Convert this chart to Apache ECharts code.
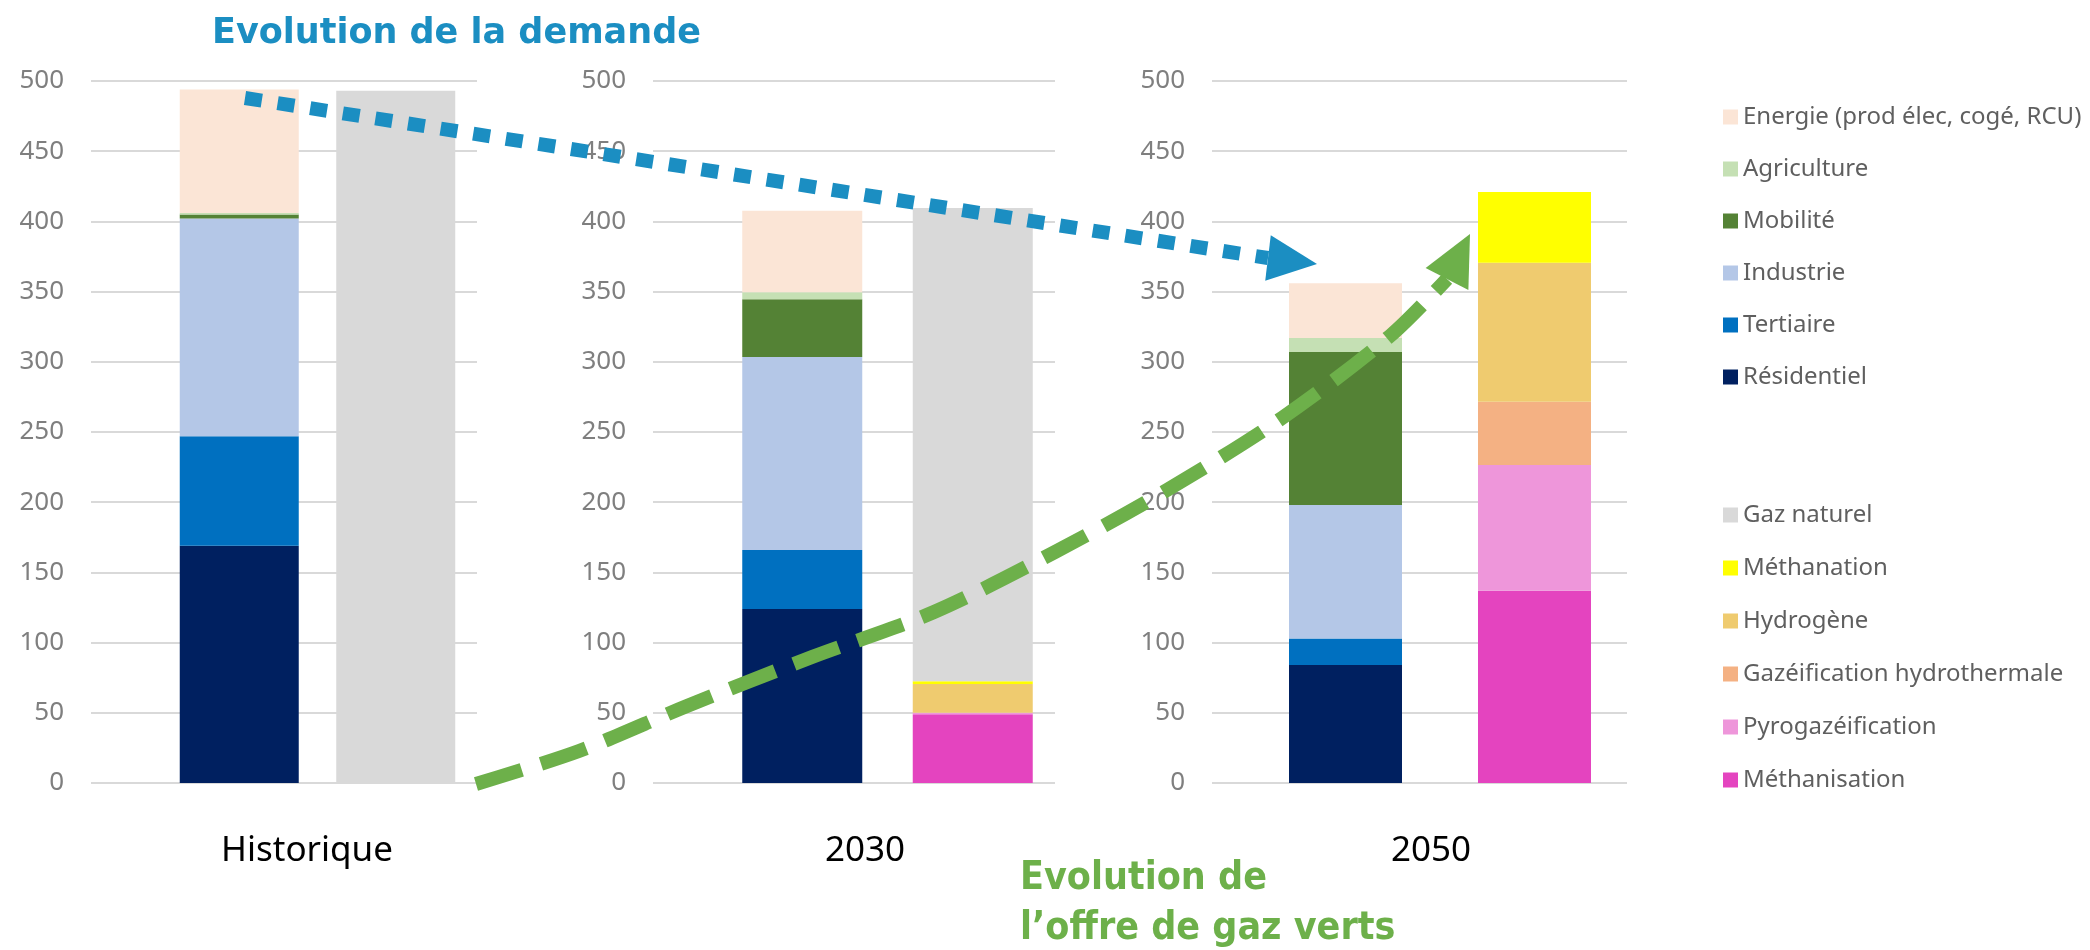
<!DOCTYPE html>
<html>
<head>
<meta charset="utf-8">
<script src="https://cdn.jsdelivr.net/npm/echarts@6/dist/echarts.min.js"></script>
<style>
html, body { margin: 0; padding: 0; background: #fff; }
#chart { width: 2090px; height: 950px; }
</style>
</head>
<body>
<div id="chart"></div>
<script>
// periods (one panel each)
var periods = ['Historique', '2030', '2050'];

// demand, bottom to top of the stack
var residentiel = [169, 124, 84];
var tertiaire = [78, 42, 19];
var industrie = [155, 137.5, 95];
var mobilite = [3, 41, 109];
var agriculture = [1, 5, 10];
var energie = [88, 58, 39];

// supply, bottom to top of the stack
var methanisation = [0, 49, 137];
var pyrogazeification = [0, 1, 89.5];
var gazeificationHydro = [0, 0, 45];
var hydrogene = [0, 20.5, 99];
var methanation = [0, 2, 50.5];
var gazNaturel = [493, 337, 0];

var demandNames = ['Résidentiel', 'Tertiaire', 'Industrie', 'Mobilité', 'Agriculture', 'Energie (prod élec, cogé, RCU)'];
var demandValues = [residentiel, tertiaire, industrie, mobilite, agriculture, energie];
var demandColors = ['#002060', '#0070c0', '#b4c7e7', '#548235', '#c5e0b4', '#fbe5d6'];

var supplyNames = ['Méthanisation', 'Pyrogazéification', 'Gazéification hydrothermale', 'Hydrogène', 'Méthanation', 'Gaz naturel'];
var supplyValues = [methanisation, pyrogazeification, gazeificationHydro, hydrogene, methanation, gazNaturel];
var supplyColors = ['#e444bf', '#ee96da', '#f4b183', '#efcb6f', '#ffff00', '#d9d9d9'];

// panel layout (pixels)
var panels = [
    {gridLeft: 91, gridWidth: 386, barLeft: 161, barGrid: 313, barWidth: 119, labelX: 307},
    {gridLeft: 653, gridWidth: 402, barLeft: 717, barGrid: 341, barWidth: 120, labelX: 865},
    {gridLeft: 1212, gridWidth: 415, barLeft: 1251, barGrid: 378, barWidth: 113, labelX: 1431}
];
var plotTop = 81, plotHeight = 702;

var grid = [], xAxis = [], yAxis = [], series = [];

panels.forEach(function (p, i) {
    // grid carrying the y labels and gridlines
    grid.push({left: p.gridLeft, top: plotTop, width: p.gridWidth, height: plotHeight});
    xAxis.push({gridIndex: 2 * i, type: 'category', data: [periods[i]], show: false});
    yAxis.push({
        gridIndex: 2 * i, type: 'value', min: 0, max: 500, interval: 50,
        axisLine: {show: false}, axisTick: {show: false},
        axisLabel: {color: '#7f7f7f', fontSize: 26, fontFamily: 'Noto Sans', margin: 27},
        splitLine: {lineStyle: {color: '#d9d9d9', width: 2}}
    });
    // grid carrying the two bars
    grid.push({left: p.barLeft, top: plotTop, width: p.barGrid, height: plotHeight});
    xAxis.push({gridIndex: 2 * i + 1, type: 'category', data: ['demande', 'offre'], show: false});
    yAxis.push({gridIndex: 2 * i + 1, type: 'value', min: 0, max: 500, show: false});

    demandNames.forEach(function (name, j) {
        series.push({
            name: name, type: 'bar', stack: 'p' + i, barWidth: p.barWidth,
            xAxisIndex: 2 * i + 1, yAxisIndex: 2 * i + 1,
            itemStyle: {color: demandColors[j]},
            emphasis: {disabled: true},
            data: [demandValues[j][i], '-']
        });
    });
    supplyNames.forEach(function (name, j) {
        series.push({
            name: name, type: 'bar', stack: 'p' + i, barWidth: p.barWidth,
            xAxisIndex: 2 * i + 1, yAxisIndex: 2 * i + 1,
            itemStyle: {color: supplyColors[j]},
            emphasis: {disabled: true},
            data: ['-', supplyValues[j][i]]
        });
    });
});

var legendText = {color: '#5f5f5f', fontSize: 24, fontFamily: 'Noto Sans', lineHeight: 24};

function arrowHead(tip, base, half) {
    var dx = tip[0] - base[0], dy = tip[1] - base[1];
    var len = Math.sqrt(dx * dx + dy * dy);
    var nx = -dy / len * half, ny = dx / len * half;
    return [tip, [base[0] + nx, base[1] + ny], [base[0] - nx, base[1] - ny]];
}

var graphics = [
    {
        type: 'text', x: 212, y: 34, z: 100,
        style: {text: 'Evolution de la demande', fill: '#1b8ec2', font: 'bold 35px "DejaVu Sans"', verticalAlign: 'middle'}
    },
    {
        type: 'text', x: 1020, y: 879, z: 100,
        style: {text: 'Evolution de', fill: '#6db04a', font: 'bold 39px "DejaVu Sans Condensed"', verticalAlign: 'middle'}
    },
    {
        type: 'text', x: 1020, y: 929, z: 100,
        style: {text: 'l\u2019offre de gaz verts', fill: '#6db04a', font: 'bold 39px "DejaVu Sans Condensed"', verticalAlign: 'middle'}
    },
    // demand arrow (dotted)
    {
        type: 'line', z: 100,
        shape: {x1: 245, y1: 98, x2: 1268, y2: 258},
        style: {stroke: '#1b8ec2', lineWidth: 14, lineDash: [17, 16]}
    },
    {
        type: 'polygon', z: 100,
        shape: {points: arrowHead([1317, 264], [1268, 258], 23)},
        style: {fill: '#1b8ec2'}
    },
    // green supply arrow (dashed)
    {
        type: 'polyline', z: 100,
        shape: {
            points: [[476, 784], [579, 751], [687, 706], [812, 657], [934, 612], [1055, 552], [1167, 490], [1282, 418], [1390, 336], [1447, 279]],
            smooth: 0.3
        },
        style: {stroke: '#6db04a', lineWidth: 14, lineDash: [48, 20], fill: null}
    },
    {
        type: 'polygon', z: 100,
        shape: {points: arrowHead([1470, 234], [1447, 279], 24)},
        style: {fill: '#6db04a'}
    }
];

periods.forEach(function (label, i) {
    graphics.push({
        type: 'text', x: panels[i].labelX, y: 851, z: 100,
        style: {text: label, fill: '#000', font: '35px "Noto Sans"', align: 'center', verticalAlign: 'middle'}
    });
});

var myChart = echarts.init(document.getElementById('chart'));
option = {
    animation: false,
    backgroundColor: '#fff',
    grid: grid,
    xAxis: xAxis,
    yAxis: yAxis,
    legend: [{
        data: demandNames.slice().reverse(),
        orient: 'vertical', left: 1723, top: 105, padding: 0,
        itemWidth: 15, itemHeight: 15, itemGap: 28, icon: 'rect',
        selectedMode: false, textStyle: legendText
    }, {
        data: supplyNames.slice().reverse(),
        orient: 'vertical', left: 1723, top: 503, padding: 0,
        itemWidth: 15, itemHeight: 15, itemGap: 29, icon: 'rect',
        selectedMode: false, textStyle: legendText
    }],
    graphic: graphics,
    series: series
};
myChart.setOption(option);
</script>
</body>
</html>
